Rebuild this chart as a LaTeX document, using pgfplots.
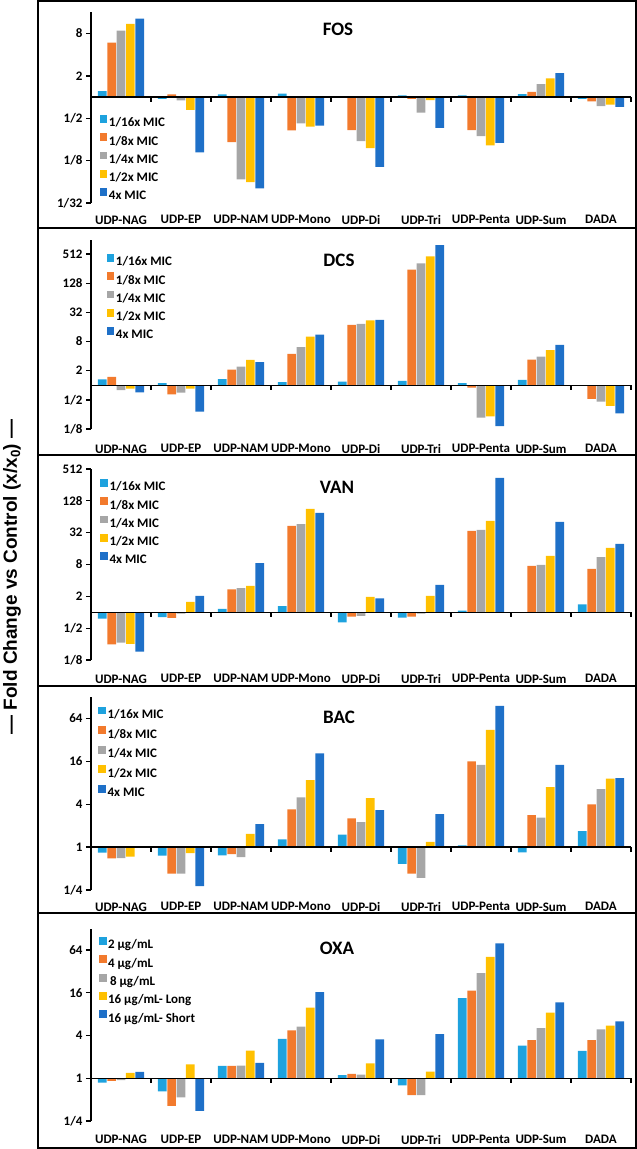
\documentclass[border=0pt]{standalone}
\usepackage{pgfplots}
\pgfplotsset{compat=1.18}
\usepackage{pgfplotstable}
\usepackage{fontspec}
\setmainfont{Carlito}
\newfontfamily\arialfont{Liberation Sans}

\definecolor{cA}{RGB}{30,162,222}
\definecolor{cB}{RGB}{242,122,45}
\definecolor{cC}{RGB}{166,166,166}
\definecolor{cD}{RGB}{255,192,0}
\definecolor{cE}{RGB}{30,112,200}

% values are log2 of the fold change (x/x0)
\pgfplotstableread{
x a b c d e
0 0.28 2.57 3.13 3.45 3.70
1 -0.08 0.13 -0.16 -0.60 -2.61
2 0.13 -2.13 -3.89 -4.02 -4.31
3 0.16 -1.57 -1.24 -1.40 -1.35
4 -0.02 -1.56 -2.08 -2.41 -3.29
5 0.08 -0.08 -0.74 -0.14 -1.46
6 0.08 -1.56 -1.84 -2.28 -2.16
7 0.14 0.25 0.61 0.88 1.13
8 -0.09 -0.20 -0.43 -0.36 -0.46
}\fos
\pgfplotstableread{
x a b c d e
0 0.41 0.57 -0.34 -0.23 -0.48
1 0.14 -0.62 -0.50 -0.23 -1.81
2 0.43 1.07 1.28 1.74 1.58
3 0.21 2.15 2.61 3.34 3.47
4 0.25 4.14 4.21 4.46 4.48
5 0.30 7.93 8.37 8.85 9.62
6 0.14 -0.16 -2.22 -2.13 -2.81
7 0.37 1.76 1.97 2.42 2.77
8 0.00 -0.94 -1.12 -1.42 -1.92
}\dcs
\pgfplotstableread{
x a b c d e
0 -0.40 -2.01 -1.91 -1.99 -2.47
1 -0.31 -0.36 -0.08 0.65 1.03
2 0.21 1.43 1.51 1.66 3.08
3 0.38 5.43 5.53 6.50 6.25
4 -0.63 -0.27 -0.23 0.96 0.88
5 -0.34 -0.27 -0.08 1.03 1.72
6 0.10 5.12 5.18 5.74 8.45
7 0.00 2.91 2.98 3.54 5.68
8 0.50 2.73 3.46 4.05 4.30
}\van
\pgfplotstableread{
x a b c d e
0 -0.26 -0.53 -0.51 -0.44 0.00
1 -0.40 -1.24 -1.23 -0.28 -1.82
2 -0.39 -0.33 -0.47 0.62 1.07
3 0.36 1.76 2.32 3.13 4.37
4 0.58 1.34 1.17 2.29 1.73
5 -0.78 -1.24 -1.43 0.25 1.54
6 0.08 4.00 3.83 5.47 6.59
7 -0.25 1.49 1.38 2.80 3.83
8 0.75 1.99 2.71 3.19 3.22
}\bac
\pgfplotstableread{
x a b c d e
0 -0.20 -0.12 -0.09 0.25 0.30
1 -0.61 -1.29 -0.89 0.65 -1.53
2 0.58 0.58 0.59 1.29 0.72
3 1.84 2.24 2.41 3.30 4.03
4 0.14 0.20 0.17 0.69 1.82
5 -0.33 -0.79 -0.79 0.31 2.06
6 3.74 4.10 4.91 5.67 6.31
7 1.53 1.78 2.34 3.07 3.55
8 1.28 1.78 2.29 2.46 2.66
}\oxa

\pgfplotsset{
  sqlegend/.style={legend image code/.code={\fill[##1] (0pt,0pt) rectangle (7.8pt,7.8pt);}},
  panel/.style={
    scale only axis, width=540pt, clip=false,
    xmin=-0.5, xmax=8.5,
    axis y line*=left, axis x line*=bottom,
    x axis line style={draw=none},
    xtick={0,...,8},
    xticklabels={UDP-NAG,UDP-EP,UDP-NAM,UDP-Mono,UDP-Di,UDP-Tri,UDP-Penta,UDP-Sum,DADA},
    xtick style={draw=none},
    tick align=outside,
    y axis line style={line width=1.3pt},
    ytick style={line width=1.3pt, black},
    major tick length=5pt,
    ticklabel style={font=\fontsize{13}{15}\selectfont\bfseries},
    ybar=0.65pt, bar width=8.7pt,
    legend cell align=left,
    legend style={draw=none, fill=none, anchor=north west, inner sep=0pt,
      row sep=4pt, nodes={inner sep=1.5pt, text height=9pt, text depth=1pt},
      font=\fontsize{13}{15}\selectfont\bfseries,
      /tikz/every even column/.append style={column sep=2.5pt}},
  },
}

\newcommand{\zeroline}{%
  \draw[line width=1.3pt] (axis cs:-0.5,0) -- (axis cs:8.5,0);
  \pgfplotsinvokeforeach{0.5,1.5,2.5,3.5,4.5,5.5,6.5,7.5,8.5}{\draw[line width=1.3pt] (axis cs:##1,0) -- ++(0pt,-5pt);}
}
\newcommand{\bars}[1]{%
  \addplot[fill=cA, draw=none, sqlegend] table[x=x,y=a]{#1};
  \addplot[fill=cB, draw=none, sqlegend] table[x=x,y=b]{#1};
  \addplot[fill=cC, draw=none, sqlegend] table[x=x,y=c]{#1};
  \addplot[fill=cD, draw=none, sqlegend] table[x=x,y=d]{#1};
  \addplot[fill=cE, draw=none, sqlegend] table[x=x,y=e]{#1};
}

\begin{document}
\begin{tikzpicture}[x=1pt,y=1pt]
\path[use as bounding box] (0pt,0pt) rectangle (637pt,-1149pt);

% FOS
\begin{axis}[panel, at={(91pt,-203pt)}, anchor=south west, height=190.7pt,
  ymin=-5, ymax=4, ytick={-5,-3,-1,1,3}, yticklabels={1/32,1/8,1/2,2,8},
  xticklabel style={yshift=-4pt},
  legend style={at={(0.0157,0.463)}}]
\bars{\fos}
\legend{1/16x MIC,1/8x MIC,1/4x MIC,1/2x MIC,4x MIC}
\zeroline
\end{axis}

% DCS
\begin{axis}[panel, at={(91pt,-429pt)}, anchor=south west, height=189.5pt,
  ymin=-3, ymax=10, ytick={-3,-1,1,3,5,7,9}, yticklabels={1/8,1/2,2,8,32,128,512},
  xticklabel style={yshift=-7pt},
  legend style={at={(0.0287,0.925)}}]
\bars{\dcs}
\legend{1/16x MIC,1/8x MIC,1/4x MIC,1/2x MIC,4x MIC}
\zeroline
\end{axis}

% VAN
\begin{axis}[panel, at={(91pt,-660pt)}, anchor=south west, height=191pt,
  ymin=-3, ymax=9, ytick={-3,-1,1,3,5,7,9}, yticklabels={1/8,1/2,2,8,32,128,512},
  xticklabel style={yshift=-6pt},
  legend style={at={(0.0167,0.949)}}]
\bars{\van}
\legend{1/16x MIC,1/8x MIC,1/4x MIC,1/2x MIC,4x MIC}
\zeroline
\end{axis}

% BAC
\begin{axis}[panel, at={(91pt,-890pt)}, anchor=south west, height=193pt,
  ymin=-2, ymax=7, ytick={-2,0,2,4,6}, yticklabels={1/4,1,4,16,64},
  xticklabel style={yshift=-4pt},
  legend style={at={(0.013,0.951)}, row sep=5.3pt}]
\bars{\bac}
\legend{1/16x MIC,1/8x MIC,1/4x MIC,1/2x MIC,4x MIC}
\zeroline
\end{axis}

% OXA
\begin{axis}[panel, at={(91pt,-1121pt)}, anchor=south west, height=192.5pt,
  ymin=-2, ymax=7, ytick={-2,0,2,4,6}, yticklabels={1/4,1,4,16,64},
  xticklabel style={yshift=-5.7pt},
  legend style={at={(0.014,0.956)}}]
\bars{\oxa}
\legend{2 µg/mL,4 µg/mL,\hspace{2pt}8 µg/mL,16 µg/mL- Long,16 µg/mL- Short}
\zeroline
\end{axis}

% titles
\begin{scope}[every node/.style={font=\fontsize{19}{22}\selectfont\bfseries}]
\node at (338pt,-29.5pt) {FOS};
\node at (339pt,-260pt) {DCS};
\node at (337pt,-487pt) {VAN};
\node at (339pt,-717pt) {BAC};
\node at (337pt,-948pt) {OXA};
\end{scope}

% frame and separators
\draw[line width=1.8pt] (38pt,-1pt) rectangle (636pt,-1148pt);
\foreach \yy in {228,455,686,913} {\draw[line width=1.8pt] (38pt,-\yy pt) -- (636pt,-\yy pt);}

% y label
\node[rotate=90, font=\arialfont\bfseries\fontsize{19}{22}\selectfont] at (12pt,-577pt) {— Fold Change vs Control (x/x\textsubscript{0}) —};
\end{tikzpicture}
\end{document}
